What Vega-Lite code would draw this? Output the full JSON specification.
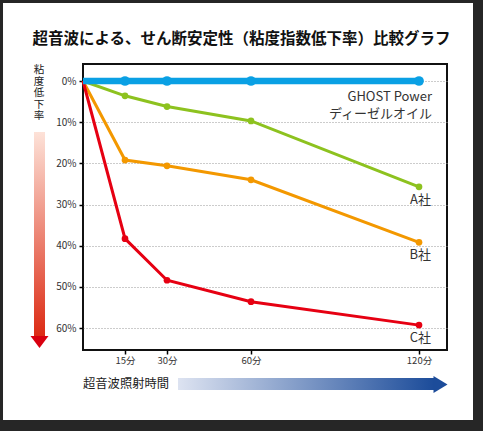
{
  "$schema": "https://vega.github.io/schema/vega-lite/v6.json",
  "autosize": "none",
  "width": 364,
  "height": 286,
  "padding": {"left": 83, "top": 64, "right": 36, "bottom": 81},
  "background": "white",
  "config": {
    "view": {"fill": "white", "stroke": "#111", "strokeWidth": 2},
    "font": "Noto Sans CJK JP"
  },
  "data": {
    "values": [
      {"series": "GHOST Power ディーゼルオイル", "t": 0, "v": 0},
      {"series": "GHOST Power ディーゼルオイル", "t": 15, "v": 0},
      {"series": "GHOST Power ディーゼルオイル", "t": 30, "v": 0},
      {"series": "GHOST Power ディーゼルオイル", "t": 60, "v": 0},
      {"series": "GHOST Power ディーゼルオイル", "t": 120, "v": 0},
      {"series": "A社", "t": 0, "v": 0},
      {"series": "A社", "t": 15, "v": 3.6},
      {"series": "A社", "t": 30, "v": 6.2},
      {"series": "A社", "t": 60, "v": 9.7},
      {"series": "A社", "t": 120, "v": 25.7},
      {"series": "B社", "t": 0, "v": 0},
      {"series": "B社", "t": 15, "v": 19.2},
      {"series": "B社", "t": 30, "v": 20.6},
      {"series": "B社", "t": 60, "v": 24.0},
      {"series": "B社", "t": 120, "v": 39.2},
      {"series": "C社", "t": 0, "v": 0},
      {"series": "C社", "t": 15, "v": 38.3},
      {"series": "C社", "t": 30, "v": 48.4},
      {"series": "C社", "t": 60, "v": 53.6},
      {"series": "C社", "t": 120, "v": 59.3}
    ]
  },
  "layer": [
    {
      "transform": [{"filter": "datum.series != 'GHOST Power ディーゼルオイル'"}],
      "mark": {"type": "line", "strokeWidth": 3, "interpolate": "linear"},
      "encoding": {
        "x": {
          "field": "t", "type": "quantitative",
          "scale": {"domain": [0, 130], "nice": false, "zero": false},
          "axis": {
            "values": [15, 30, 60, 120], "title": null, "grid": false, "domain": false,
            "labelExpr": "datum.value + '分'", "labelFontSize": 9.5, "labelColor": "#333",
            "tickColor": "#000", "tickSize": 4, "tickWidth": 1.5, "labelPadding": 1
          }
        },
        "y": {
          "field": "v", "type": "quantitative",
          "scale": {"domain": [-4.1296, 65.344], "nice": false, "zero": false, "reverse": true},
          "axis": {
            "values": [0, 10, 20, 30, 40, 50, 60], "title": null, "domain": false,
            "labelExpr": "datum.value + '%'", "labelFontSize": 10, "labelColor": "#333",
            "tickColor": "#000", "tickSize": 4, "tickWidth": 1.5, "labelPadding": 3,
            "grid": true, "gridColor": "#999", "gridDash": [1, 2], "gridWidth": 1
          }
        },
        "color": {
          "field": "series", "type": "nominal", "legend": null,
          "scale": {
            "domain": ["GHOST Power ディーゼルオイル", "A社", "B社", "C社"],
            "range": ["#0aa0e4", "#8dc21f", "#f39800", "#e60012"]
          }
        },
        "order": {"field": "t"}
      }
    },
    {
      "transform": [{"filter": "datum.series == 'GHOST Power ディーゼルオイル'"}],
      "mark": {"type": "line", "strokeWidth": 6.5, "interpolate": "linear"},
      "encoding": {
        "x": {"field": "t", "type": "quantitative"},
        "y": {"field": "v", "type": "quantitative"},
        "color": {"field": "series", "type": "nominal", "legend": null},
        "order": {"field": "t"}
      }
    },
    {
      "transform": [{"filter": "datum.t > 0 && datum.series != 'GHOST Power ディーゼルオイル'"}],
      "mark": {"type": "point", "filled": true, "opacity": 1, "size": 45},
      "encoding": {
        "x": {"field": "t", "type": "quantitative"},
        "y": {"field": "v", "type": "quantitative"},
        "color": {"field": "series", "type": "nominal", "legend": null}
      }
    },
    {
      "transform": [{"filter": "datum.t > 0 && datum.series == 'GHOST Power ディーゼルオイル'"}],
      "mark": {"type": "point", "filled": true, "opacity": 1, "size": 95},
      "encoding": {
        "x": {"field": "t", "type": "quantitative"},
        "y": {"field": "v", "type": "quantitative"},
        "color": {"field": "series", "type": "nominal", "legend": null}
      }
    },
    {
      "transform": [{"filter": "datum.t == 120 && datum.series != 'GHOST Power ディーゼルオイル'"}],
      "mark": {"type": "text", "align": "right", "baseline": "top", "dx": 12, "dy": 7, "fontSize": 13, "color": "#333"},
      "encoding": {
        "x": {"field": "t", "type": "quantitative"},
        "y": {"field": "v", "type": "quantitative"},
        "text": {"field": "series"}
      }
    },
    {
      "transform": [{"filter": "datum.t == 120 && datum.series == 'GHOST Power ディーゼルオイル'"}],
      "mark": {"type": "text", "align": "right", "baseline": "top", "dx": 13, "dy": 10, "fontSize": 13, "lineHeight": 16.5, "color": "#333"},
      "encoding": {
        "x": {"field": "t", "type": "quantitative"},
        "y": {"field": "v", "type": "quantitative"},
        "text": {"value": ["GHOST Power", "ディーゼルオイル"]}
      }
    },
    {
      "data": {"values": [{}]},
      "mark": {"type": "rect", "clip": false, "fill": "transparent", "stroke": "#262626", "strokeWidth": 20},
      "encoding": {
        "x": {"datum": -32.14, "type": "quantitative"},
        "x2": {"datum": 142.86},
        "y": {"datum": -21.38, "type": "quantitative"},
        "y2": {"datum": 84.78}
      }
    },
    {
      "data": {"values": [{}]},
      "mark": {"type": "rect", "clip": false, "fill": {"gradient": "linear", "x1": 0, "y1": 0, "x2": 0, "y2": 1, "stops": [{"offset": 0, "color": "#fde2d8"}, {"offset": 1, "color": "#dc2b14"}]}},
      "encoding": {
        "x": {"datum": -17.5, "type": "quantitative"},
        "x2": {"datum": -13.57},
        "y": {"datum": 12.39, "type": "quantitative"},
        "y2": {"datum": 61.94}
      }
    },
    {
      "data": {"values": [{}]},
      "mark": {"type": "point", "clip": false, "filled": true, "opacity": 1, "color": "#d9000f", "shape": "M-1,-0.667L1,-0.667L0,0.667Z", "size": 324},
      "encoding": {
        "x": {"datum": -15.54, "type": "quantitative"},
        "y": {"datum": 63.4, "type": "quantitative"}
      }
    },
    {
      "data": {"values": [{}]},
      "mark": {"type": "rect", "clip": false, "fill": {"gradient": "linear", "x1": 0, "y1": 0, "x2": 1, "y2": 0, "stops": [{"offset": 0, "color": "#dde3f1"}, {"offset": 1, "color": "#1c4c9a"}]}},
      "encoding": {
        "x": {"datum": 33.93, "type": "quantitative"},
        "x2": {"datum": 125.36},
        "y": {"datum": 72.15, "type": "quantitative"},
        "y2": {"datum": 75.06}
      }
    },
    {
      "data": {"values": [{}]},
      "mark": {"type": "point", "clip": false, "filled": true, "opacity": 1, "color": "#1c4c9a", "shape": "M-0.8235,-1L0.8235,0L-0.8235,1Z", "size": 289},
      "encoding": {
        "x": {"datum": 127.68, "type": "quantitative"},
        "y": {"datum": 73.72, "type": "quantitative"}
      }
    },
    {
      "data": {"values": [{}]},
      "mark": {"type": "text", "clip": false, "align": "left", "baseline": "middle", "fontSize": 12.3, "color": "#222", "text": "超音波照射時間"},
      "encoding": {
        "x": {"datum": 0, "type": "quantitative"},
        "y": {"datum": 73.6, "type": "quantitative"}
      }
    },
    {
      "data": {"values": [{}]},
      "mark": {"type": "text", "clip": false, "align": "center", "baseline": "top", "fontSize": 10.5, "lineHeight": 11.6, "color": "#222", "text": ["粘", "度", "低", "下", "率"]},
      "encoding": {
        "x": {"datum": -15.71, "type": "quantitative"},
        "y": {"datum": -3.89, "type": "quantitative"}
      }
    },
    {
      "data": {"values": [{}]},
      "mark": {"type": "text", "clip": false, "align": "center", "baseline": "middle", "fontSize": 15.5, "fontWeight": "bold", "color": "#111", "text": "超音波による、せん断安定性（粘度指数低下率）比較グラフ"},
      "encoding": {
        "x": {"datum": 56.6, "type": "quantitative"},
        "y": {"datum": -10.32, "type": "quantitative"}
      }
    }
  ]
}
